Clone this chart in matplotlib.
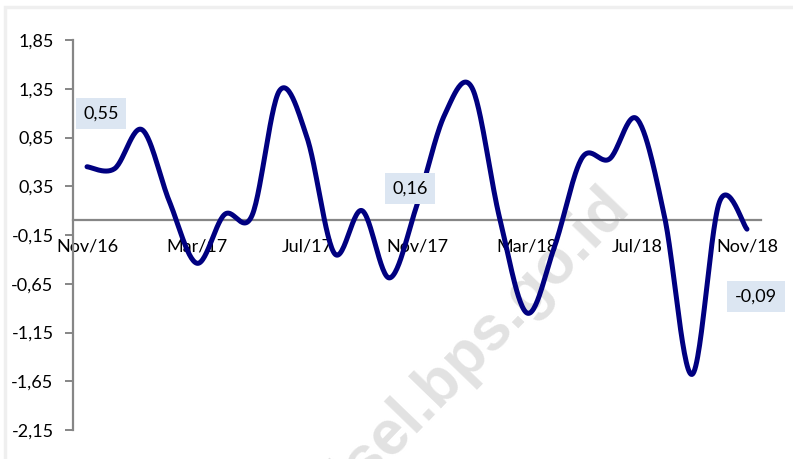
import numpy as np
import matplotlib
matplotlib.use("Agg")
import matplotlib.pyplot as plt
from matplotlib.patches import Rectangle

plt.rcParams['font.family'] = ['Lato', 'DejaVu Sans']

# Monthly series, Nov/16 .. Nov/18
months = ["Nov/16", "Dec/16", "Jan/17", "Feb/17", "Mar/17", "Apr/17", "May/17",
          "Jun/17", "Jul/17", "Aug/17", "Sep/17", "Oct/17", "Nov/17", "Dec/17",
          "Jan/18", "Feb/18", "Mar/18", "Apr/18", "May/18", "Jun/18", "Jul/18",
          "Aug/18", "Sep/18", "Oct/18", "Nov/18"]
values = [0.55, 0.53, 0.93, 0.19, -0.44, 0.06, 0.05, 1.33, 0.85, -0.34, 0.10,
          -0.59, 0.16, 1.08, 1.36, 0.03, -0.95, -0.27, 0.64, 0.63, 1.04, 0.04,
          -1.58, 0.19, -0.09]
labelled = {0: "0,55", 12: "0,16", 24: "-0,09"}
yticks = [-2.15, -1.65, -1.15, -0.65, -0.15, 0.35, 0.85, 1.35, 1.85]


def smooth(x, y, steps=30):
    """Bezier smoothing through every point (Catmull-Rom style control points)."""
    x = np.asarray(x, float)
    y = np.asarray(y, float)
    n = len(x)
    px = np.concatenate([[x[0]], x, [x[-1]]])
    py = np.concatenate([[y[0]], y, [y[-1]]])
    xs, ys = [], []
    t = np.linspace(0, 1, steps)
    for i in range(n - 1):
        p0 = np.array([px[i + 1], py[i + 1]])
        p3 = np.array([px[i + 2], py[i + 2]])
        c1 = p0 + (np.array([px[i + 2], py[i + 2]]) - np.array([px[i], py[i]])) / 6
        c2 = p3 - (np.array([px[i + 3], py[i + 3]]) - np.array([px[i + 1], py[i + 1]])) / 6
        b = ((1 - t) ** 3)[:, None] * p0 + (3 * (1 - t) ** 2 * t)[:, None] * c1 \
            + (3 * (1 - t) * t ** 2)[:, None] * c2 + (t ** 3)[:, None] * p3
        xs.append(b[:, 0])
        ys.append(b[:, 1])
    return np.concatenate(xs), np.concatenate(ys)


fig = plt.figure(figsize=(7.93, 4.59), dpi=100)

# light chart-area frame
fig.patches.append(Rectangle((5 / 793, -0.1), 1.2, (459 - 7) / 459 + 0.1,
                             transform=fig.transFigure, fill=False,
                             edgecolor="#efefef", linewidth=2.5, zorder=-2))

ax = fig.add_axes([73 / 793, (459 - 430) / 459, 688 / 793, 390 / 459])
ax.set_facecolor("none")
ax.set_zorder(1)

# watermark, drawn behind the plot
fig.text(0.575, 0.20, "sulsel.bps.go.id", rotation=46, fontsize=45,
         fontweight="bold", color="#e2e2e2", ha="center", va="center",
         rotation_mode="anchor", zorder=-1, family=["Liberation Sans", "DejaVu Sans"])

idx = np.arange(len(values))
sx, sy = smooth(idx, values)
ax.plot(sx, sy, color="#000080", linewidth=3.6, solid_capstyle="round", zorder=3)

ax.set_xlim(-0.51, 24.51)
ax.set_ylim(-2.15, 1.85)

for side in ("top", "right"):
    ax.spines[side].set_visible(False)
ax.spines["left"].set_color("#868686")
ax.spines["left"].set_linewidth(1.6)
ax.spines["bottom"].set_position(("data", 0))
ax.spines["bottom"].set_color("#868686")
ax.spines["bottom"].set_linewidth(1.6)

ax.set_yticks(yticks)
ax.set_yticklabels([f"{v:.2f}".replace(".", ",") for v in yticks])
ax.tick_params(axis="y", length=6, width=1.4, color="#868686", pad=8,
               labelsize=13, labelcolor="#000000")

xt = list(range(0, len(months), 4))
ax.set_xticks(xt)
ax.set_xticklabels([months[i] for i in xt])
ax.tick_params(axis="x", length=0, pad=13, labelsize=13, labelcolor="#000000")
for lab in ax.get_xticklabels():
    lab.set_zorder(4)

# data labels
offsets = {0: (14, 53), 12: (-7, 16), 24: (9, -67)}
for i, txt in labelled.items():
    dx, dy = offsets[i]
    ax.annotate(txt, (i, values[i]), xytext=(dx * 0.72, dy * 0.72),
                textcoords="offset points", ha="center", va="center",
                fontsize=13, color="#000000", zorder=5,
                bbox=dict(boxstyle="square,pad=0.42", facecolor="#dce6f2",
                          edgecolor="none"))

fig.savefig("out.png", dpi=100)
